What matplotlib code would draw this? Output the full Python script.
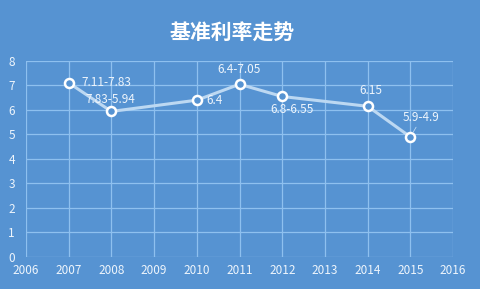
import numpy as np
from matplotlib import pyplot as plt

plt.rcParams['font.family'] = ['Noto Sans CJK SC', 'DejaVu Sans']

years = [2007, 2008, 2010, 2011, 2012, 2014, 2015]
rates = [7.11, 5.94, 6.4, 7.05, 6.55, 6.15, 4.9]
labels = ['7.11-7.83', '7.83-5.94', '6.4', '6.4-7.05', '6.8-6.55', '6.15', '5.9-4.9']
xticks = list(range(2006, 2017))
yticks = list(range(0, 9))

bg = '#5693d2'
grid_c = '#8ec0ef'
line_c = '#bcd8f2'
txt_c = '#eef5fc'

fig = plt.figure(figsize=(4.8, 2.89), dpi=100, facecolor=bg)
ax = fig.add_axes([0.054, 0.111, 0.89, 0.678], facecolor=bg)

ax.plot(years, rates, color=line_c, lw=2.2, zorder=3,
        marker='o', ms=6.5, mfc=bg, mec='white', mew=1.8)

# label offsets in points (dx, dy, ha, va)
offs = [(9, 0, 'left', 'center'),
        (-1, 4, 'center', 'bottom'),
        (7, 0, 'left', 'center'),
        (0, 6, 'center', 'bottom'),
        (7, -5, 'center', 'top'),
        (2, 7, 'center', 'bottom'),
        (8, 9, 'center', 'bottom')]
for i, (x, y, s, (dx, dy, ha, va)) in enumerate(zip(years, rates, labels, offs)):
    arrow = dict(arrowstyle='-', color=line_c, lw=0.6, shrinkA=0, shrinkB=4) if i == 6 else None
    ax.annotate(s, (x, y), xytext=(dx, dy), textcoords='offset points',
                ha=ha, va=va, color=txt_c, fontsize=8.5, zorder=5,
                arrowprops=arrow)

ax.set_xlim(2006, 2016)
ax.set_ylim(0, 8)
ax.set_xticks(xticks)
ax.set_yticks(yticks)
ax.grid(True, color=grid_c, lw=0.9)
ax.set_axisbelow(True)
for sp in ax.spines.values():
    sp.set_visible(False)
ax.tick_params(length=0, colors=txt_c, labelsize=8.5)
ax.tick_params(axis='x', pad=5)
ax.tick_params(axis='y', pad=8)

fig.text(0.483, 0.885, '基准利率走势', ha='center', va='center',
         color='white', fontsize=15, fontweight='bold')

fig.savefig('out.png', dpi=100, facecolor=bg)
